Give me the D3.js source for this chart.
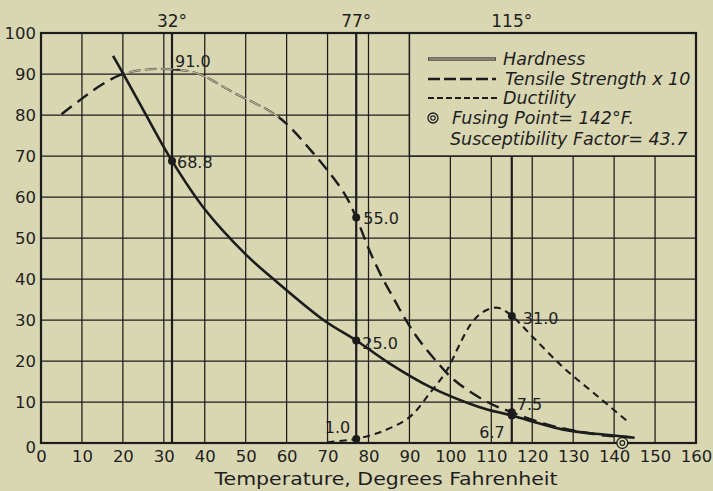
<!DOCTYPE html>
<html>
<head>
<meta charset="utf-8">
<script src="https://cdn.jsdelivr.net/npm/d3@7"></script>
<style>
  html, body { margin: 0; padding: 0; background: #d9d6b2; }
  svg { display: block; }
  text { font-family: "DejaVu Sans", sans-serif; fill: #1e1e1e; }
</style>
</head>
<body>
<svg id="chart" width="713" height="491"></svg>
<script>
// ---- data ----
const tempTicks = d3.range(0, 161, 10);
const valueTicks = d3.range(0, 101, 10);

const hardnessT = [17.6, 20, 25, 32, 40, 50, 57, 69, 77, 85, 95, 107, 115, 128, 138, 145];
const hardnessV = [94.4, 90.2, 81.2, 68.8, 57, 46, 39.8, 30, 25.0, 19.5, 13.7, 8.8, 6.7, 3.2, 2.0, 1.3];

const tensileT = [5, 10, 15, 20, 25, 31, 38, 47, 58, 66.5, 74, 77, 80, 83, 86, 89, 92, 96, 101, 109, 115, 124, 132, 137, 144];
const tensileV = [80.2, 84, 87.5, 90, 91, 91.2, 90.2, 85.5, 79.5, 70.7, 61, 55.0, 47.5, 41, 35.5, 30.2, 25.6, 20.6, 15.3, 10, 7.5, 4.4, 2.7, 1.9, 1.4];

const ductilityT = [70, 75, 77, 83, 90, 95, 99, 102, 105, 108, 111.5, 115, 120, 127.5, 135, 143];
const ductilityV = [0.2, 0.7, 1.0, 2.7, 6.3, 12.2, 17.5, 23.5, 29, 32, 33, 31.0, 26, 18.5, 12.2, 5.5];

const markedTemps = [32, 77, 115];
const markedLabels = ["32°", "77°", "115°"];

const pointT = [32, 77, 77, 77, 115, 115, 115];
const pointV = [68.8, 55.0, 25.0, 1.0, 31.0, 7.5, 6.7];
const peakT = 32, peakV = 91.0;
const fusingPoint = 142;

const legendLabels = ["Hardness", "Tensile Strength x 10", "Ductility", "Fusing  Point= 142°F.", "Susceptibility Factor= 43.7"];
const xTitle = "Temperature, Degrees Fahrenheit";

// ---- layout ----
const svg = d3.select("#chart");
const L = 41, T = 33, R = 696, B = 443;
const x = d3.scaleLinear().domain([0, 160]).range([L, R]);
const y = d3.scaleLinear().domain([0, 100]).range([B, T]);
const ink = "#1c1c1c";
const paper = "#d9d6b2";

// grid
const grid = svg.append("g").attr("stroke", ink).attr("stroke-width", 1.25);
grid.selectAll("line.v").data(tempTicks).join("line")
  .attr("x1", d => x(d)).attr("x2", d => x(d)).attr("y1", y(0)).attr("y2", y(100));
grid.selectAll("line.h").data(valueTicks).join("line")
  .attr("y1", d => y(d)).attr("y2", d => y(d)).attr("x1", x(0)).attr("x2", x(160));

// legend box background (covers grid)
const lgX0 = x(90), lgY0 = y(100), lgX1 = x(160), lgY1 = y(70);
svg.append("rect").attr("x", lgX0).attr("y", lgY0).attr("width", lgX1 - lgX0).attr("height", lgY1 - lgY0)
  .attr("fill", paper).attr("stroke", ink).attr("stroke-width", 1.4);

// marked temperature lines
svg.append("g").selectAll("line").data(markedTemps).join("line")
  .attr("x1", d => x(d)).attr("x2", d => x(d))
  .attr("y1", d => d >= 90 ? y(70) : y(100)).attr("y2", y(0))
  .attr("stroke", ink).attr("stroke-width", 2.2);
svg.append("g").selectAll("text").data(markedTemps).join("text")
  .attr("x", d => x(d)).attr("y", 27).attr("text-anchor", "middle")
  .attr("font-size", 17).text((d, i) => markedLabels[i]);

// frame
svg.append("rect").attr("x", L).attr("y", T).attr("width", R - L).attr("height", B - T)
  .attr("fill", "none").attr("stroke", ink).attr("stroke-width", 2.2);

// axes labels
const yAxis = d3.axisLeft(y).tickValues(valueTicks).tickSize(0).tickPadding(5);
const gy = svg.append("g").attr("transform", `translate(${L},0)`).call(yAxis);
gy.select(".domain").remove();
gy.selectAll("text").attr("font-size", 16.5).attr("font-family", "DejaVu Sans").attr("fill", ink)
  .attr("dy", d => d === 0 ? "0.55em" : "0.35em");

const xAxis = d3.axisBottom(x).tickValues(tempTicks).tickSize(0).tickPadding(7);
const gx = svg.append("g").attr("transform", `translate(0,${B})`).call(xAxis);
gx.select(".domain").remove();
gx.selectAll("text").attr("font-size", 16.5).attr("font-family", "DejaVu Sans").attr("fill", ink);

svg.append("text").attr("x", 386).attr("y", 485).attr("text-anchor", "middle")
  .attr("font-size", 18.5).attr("textLength", 343).attr("lengthAdjust", "spacingAndGlyphs").text(xTitle);

// curves
const line = d3.line().x(d => x(d[0])).y(d => y(d[1])).curve(d3.curveCatmullRom.alpha(0.5));
const hardness = hardnessT.map((t, i) => [t, hardnessV[i]]);
const tensile = tensileT.map((t, i) => [t, tensileV[i]]);
const ductility = ductilityT.map((t, i) => [t, ductilityV[i]]);

// clip regions for tensile: faded middle section as in print
const defs = svg.append("defs");
defs.append("clipPath").attr("id", "midClip").append("rect")
  .attr("x", x(20)).attr("y", 0).attr("width", x(58) - x(20)).attr("height", 491);
const outer = defs.append("clipPath").attr("id", "outClip");
outer.append("rect").attr("x", 0).attr("y", 0).attr("width", x(20)).attr("height", 491);
outer.append("rect").attr("x", x(58)).attr("y", 0).attr("width", 713 - x(58)).attr("height", 491);

svg.append("path").datum(tensile).attr("d", line).attr("fill", "none")
  .attr("stroke", ink).attr("stroke-width", 2.4).attr("stroke-dasharray", "13,7")
  .attr("clip-path", "url(#outClip)");
svg.append("path").datum(tensile).attr("d", line).attr("fill", "none")
  .attr("stroke", "#5a5a50").attr("stroke-width", 2.2).attr("stroke-dasharray", "12,4")
  .attr("clip-path", "url(#midClip)");
svg.append("path").datum(tensile).attr("d", line).attr("fill", "none")
  .attr("stroke", "#cfcca8").attr("stroke-width", 0.9)
  .attr("clip-path", "url(#midClip)");

svg.append("path").datum(ductility).attr("d", line).attr("fill", "none")
  .attr("stroke", ink).attr("stroke-width", 2.1).attr("stroke-dasharray", "7,5");

svg.append("path").datum(hardness).attr("d", line).attr("fill", "none")
  .attr("stroke", ink).attr("stroke-width", 2.6);

// points
svg.append("g").selectAll("circle").data(pointT).join("circle")
  .attr("cx", d => x(d)).attr("cy", (d, i) => y(pointV[i])).attr("r", 4).attr("fill", ink);

// value labels
const off = [[5, 7, "start"], [7, 6, "start"], [6, 8, "start"], [-6, -6, "end"], [11, 8, "start"], [5, -2, "start"], [-7, 22, "end"]];
svg.append("g").selectAll("text").data(pointT).join("text")
  .attr("x", (d, i) => x(d) + off[i][0]).attr("y", (d, i) => y(pointV[i]) + off[i][1])
  .attr("text-anchor", (d, i) => off[i][2]).attr("font-size", 16)
  .text((d, i) => d3.format(".1f")(pointV[i]));
svg.append("text").attr("x", x(peakT) + 3).attr("y", y(peakV) - 3).attr("font-size", 16)
  .text(d3.format(".1f")(peakV));
svg.append("line").attr("x1", x(peakT)).attr("x2", x(peakT) + 8).attr("y1", y(peakV)).attr("y2", y(peakV))
  .attr("stroke", ink).attr("stroke-width", 1.5);

// fusing point symbol
const fp = svg.append("g").attr("transform", `translate(${x(fusingPoint)},${y(0)})`);
fp.append("circle").attr("r", 5.5).attr("fill", paper).attr("stroke", ink).attr("stroke-width", 1.3);
fp.append("circle").attr("r", 2.3).attr("fill", "none").attr("stroke", ink).attr("stroke-width", 1.2);

// legend
const lg = svg.append("g");
const sx0 = 428, sx1 = 496;
const rowY = [59, 79, 98, 118, 139];
lg.append("line").attr("x1", sx0).attr("x2", sx1).attr("y1", rowY[0]).attr("y2", rowY[0])
  .attr("stroke", "#4a4a44").attr("stroke-width", 3.4);
lg.append("line").attr("x1", sx0 + 1).attr("x2", sx1 - 1).attr("y1", rowY[0]).attr("y2", rowY[0])
  .attr("stroke", "#bdbaa0").attr("stroke-width", 1.2);
lg.append("line").attr("x1", sx0).attr("x2", sx1).attr("y1", rowY[1]).attr("y2", rowY[1])
  .attr("stroke", ink).attr("stroke-width", 2.4).attr("stroke-dasharray", "12,4");
lg.append("line").attr("x1", sx0).attr("x2", sx1 + 2).attr("y1", rowY[2]).attr("y2", rowY[2])
  .attr("stroke", ink).attr("stroke-width", 2.2).attr("stroke-dasharray", "6,3");
const ls = lg.append("g").attr("transform", `translate(433,${rowY[3]})`);
ls.append("circle").attr("r", 5).attr("fill", "none").attr("stroke", ink).attr("stroke-width", 1.3);
ls.append("circle").attr("r", 2.2).attr("fill", "none").attr("stroke", ink).attr("stroke-width", 1.2);

const textX = [503, 505, 503, 452, 450];
lg.selectAll("text").data(legendLabels).join("text")
  .attr("x", (d, i) => textX[i]).attr("y", (d, i) => rowY[i] + 6)
  .attr("font-size", 17.5).attr("font-style", "italic").attr("font-family", "Liberation Sans, sans-serif")
  .text(d => d);
</script>
</body>
</html>
